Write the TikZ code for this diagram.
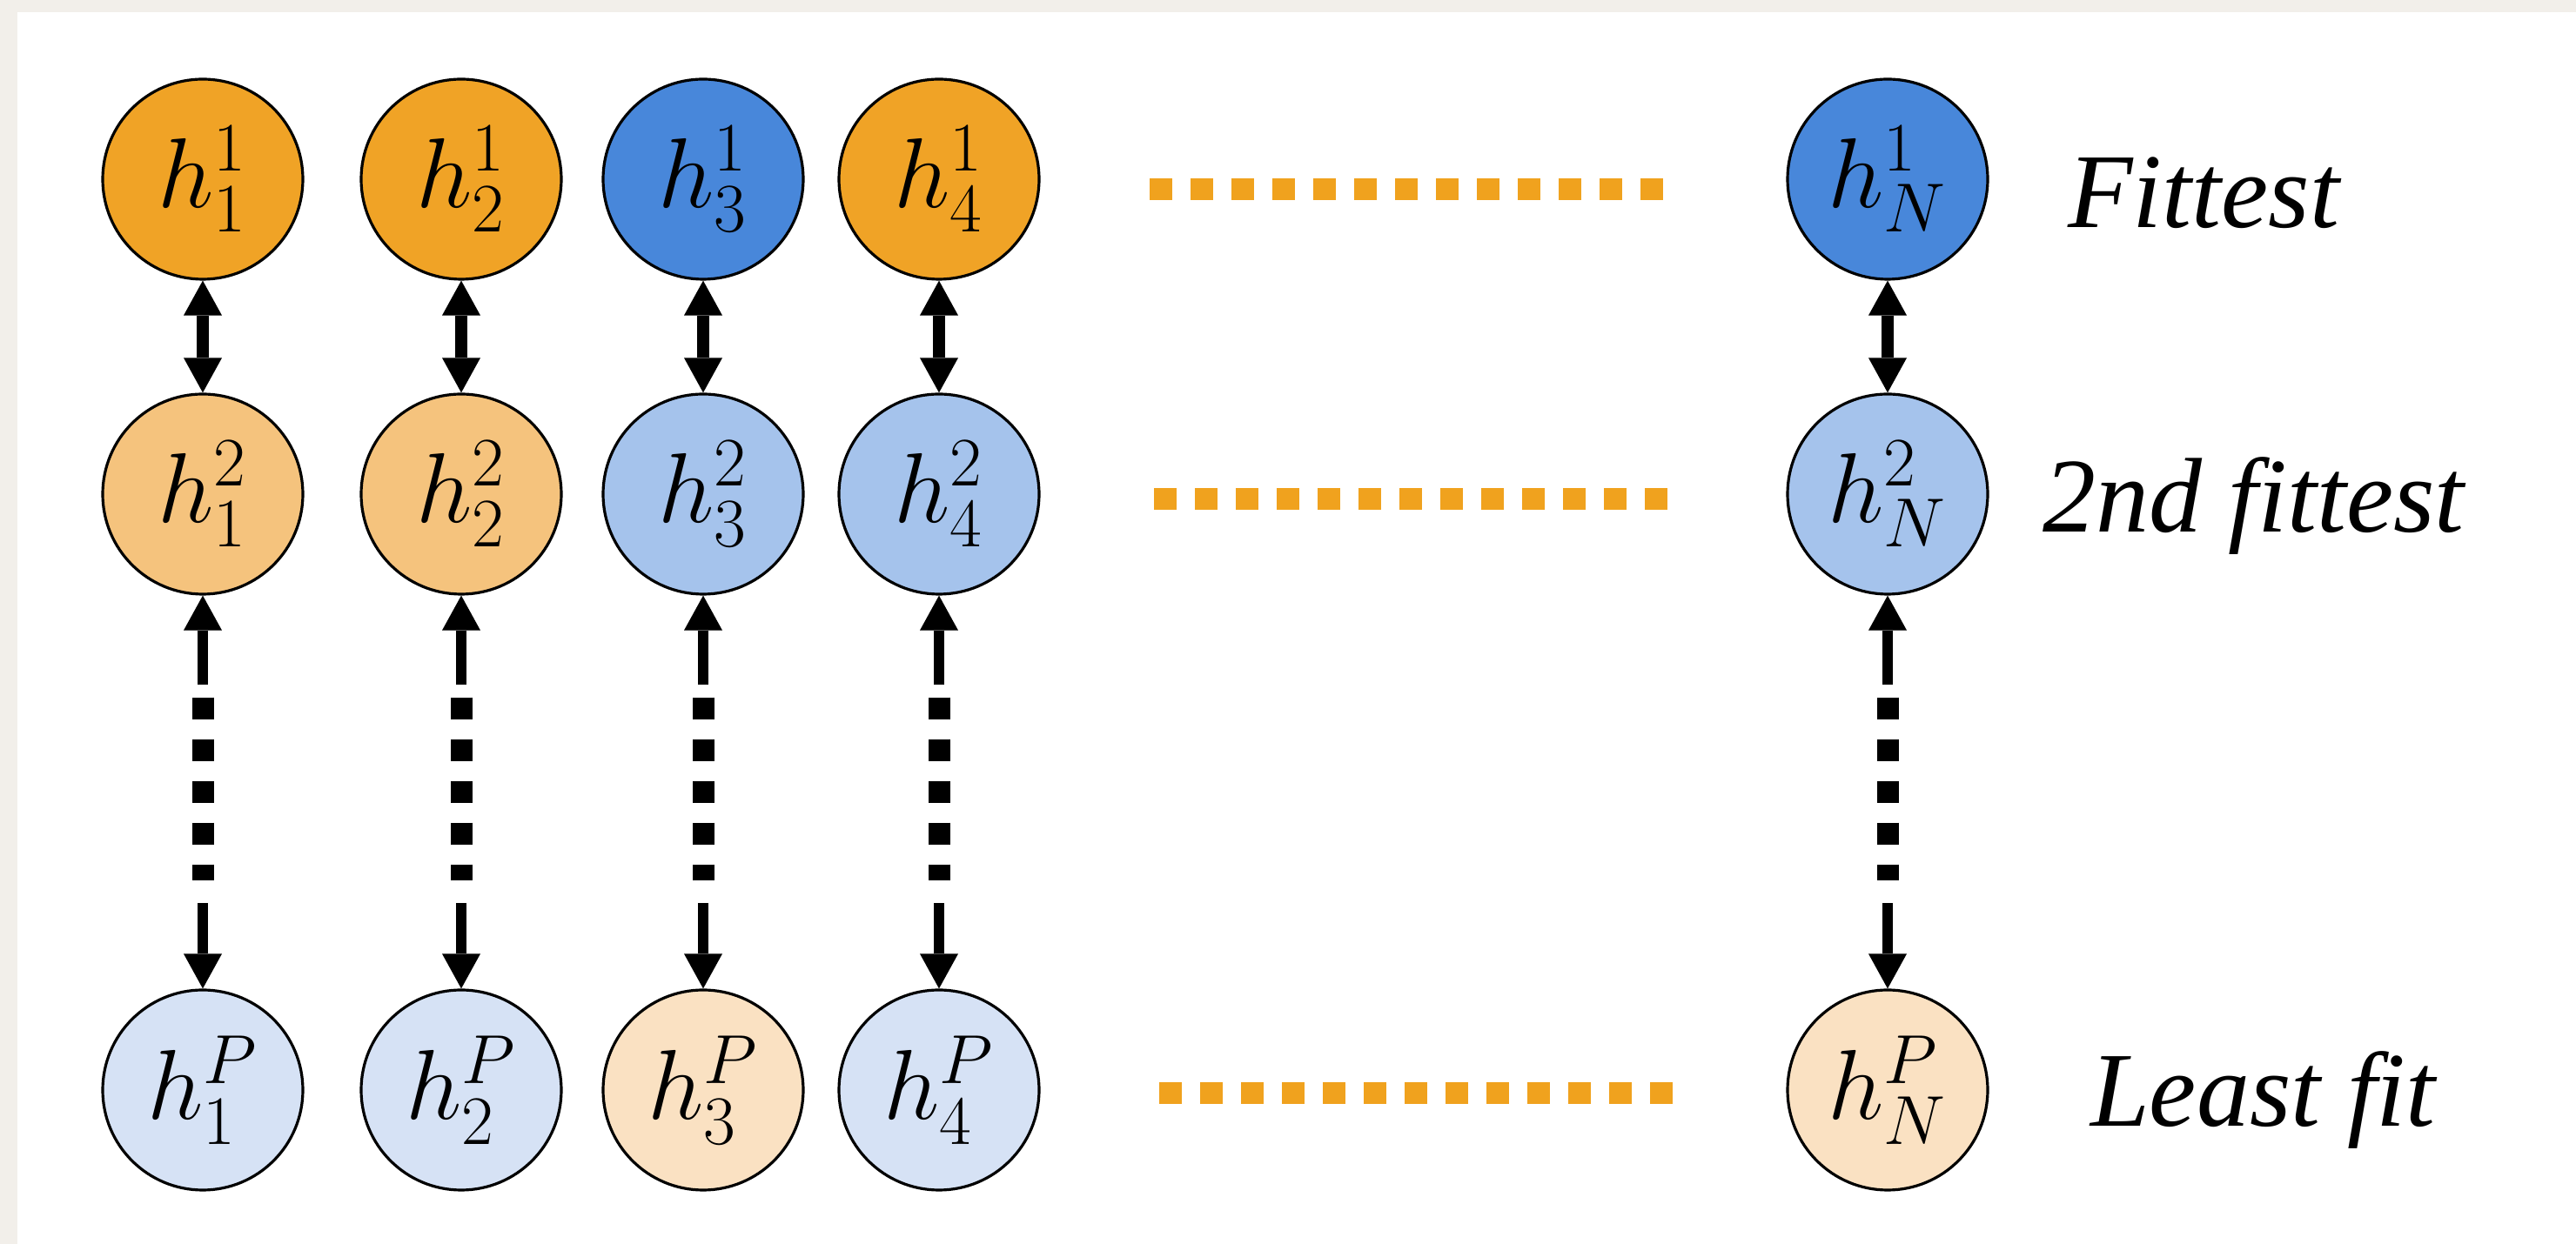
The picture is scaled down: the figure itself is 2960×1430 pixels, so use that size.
\RequirePackage{fix-cm}
\documentclass[tikz,border=0pt]{standalone}
\usepackage{fontspec}
\newfontfamily\labelfont{Liberation Serif}
\usetikzlibrary{arrows.meta}
\definecolor{bgout}{RGB}{242,239,234}
\definecolor{orgA}{RGB}{240,163,38}
\definecolor{orgB}{RGB}{245,195,125}
\definecolor{orgC}{RGB}{250,225,194}
\definecolor{bluA}{RGB}{72,135,218}
\definecolor{bluB}{RGB}{165,195,236}
\definecolor{bluC}{RGB}{214,226,245}
\definecolor{dotorg}{RGB}{240,162,30}
\tikzset{
  hn/.style={circle, draw=black, line width=0.8pt, minimum size=57.5pt, inner sep=0pt,
    font=\fontsize{28.5}{34}\selectfont},
  lbl/.style={anchor=base west, font=\labelfont\itshape\fontsize{30.5}{36}\selectfont},
  tri/.tip={Triangle[width=11pt,length=10pt,line width=0pt]},
  dbl/.style={line width=3.4pt, tri-tri},
  half/.style={line width=3.2pt},
  bdots/.style={line width=6.25pt, dash pattern=on 6.25pt off 5.75pt},
  odots/.style={dotorg, line width=6.25pt, dash pattern=on 6.5pt off 5.25pt}
}
\begin{document}
\begin{tikzpicture}[x=0.25pt,y=-0.25pt]
\fill[bgout] (0,0) rectangle (2960,1430);
\fill[white] (20,14) rectangle (2960,1430);
\useasboundingbox (0,0) rectangle (2960,1430);

% row 1
\node[hn, fill=orgA] (a1) at (233,206) {$h^1_1$};
\node[hn, fill=orgA] (a2) at (530,206) {$h^1_2$};
\node[hn, fill=bluA] (a3) at (808,206) {$h^1_3$};
\node[hn, fill=orgA] (a4) at (1079,206) {$h^1_4$};
\node[hn, fill=bluA] (aN) at (2169,206) {$h^1_N$};
% row 2
\node[hn, fill=orgB] (b1) at (233,568) {$h^2_1$};
\node[hn, fill=orgB] (b2) at (530,568) {$h^2_2$};
\node[hn, fill=bluB] (b3) at (808,568) {$h^2_3$};
\node[hn, fill=bluB] (b4) at (1079,568) {$h^2_4$};
\node[hn, fill=bluB] (bN) at (2169,568) {$h^2_N$};
% row 3
\node[hn, fill=bluC] (c1) at (233,1253) {$h^P_1$};
\node[hn, fill=bluC] (c2) at (530,1253) {$h^P_2$};
\node[hn, fill=orgC] (c3) at (808,1253) {$h^P_3$};
\node[hn, fill=bluC] (c4) at (1079,1253) {$h^P_4$};
\node[hn, fill=orgC] (cN) at (2169,1253) {$h^P_N$};

% labels
\node[lbl] (l1) at (2362,262) {Fittest};
\node[lbl] (l2) at (2333,612) {2nd fittest};
\node[lbl] (l3) at (2388,1295) {Least fit};

% vertical connectors
\foreach \k in {1,2,3,4,N}{
  \draw[dbl] (a\k) -- (b\k);
  \draw[half, tri-] (b\k.south) -- ([yshift=-25.5pt]b\k.south);
  \draw[half, -tri] ([yshift=24.5pt]c\k.north) -- (c\k.north);
  \draw[bdots] ([yshift=-29.25pt]b\k.south) -- ([yshift=-81.75pt]b\k.south);
}

% orange dotted rows
\coordinate (o1s) at (1321,218); \coordinate (o1e) at (1911,218);
\coordinate (o2s) at (1326,574); \coordinate (o2e) at (1916,574);
\coordinate (o3s) at (1332,1257); \coordinate (o3e) at (1922,1257);
\draw[odots] (o1s) -- (o1e);
\draw[odots] (o2s) -- (o2e);
\draw[odots] (o3s) -- (o3e);
\end{tikzpicture}
\end{document}
